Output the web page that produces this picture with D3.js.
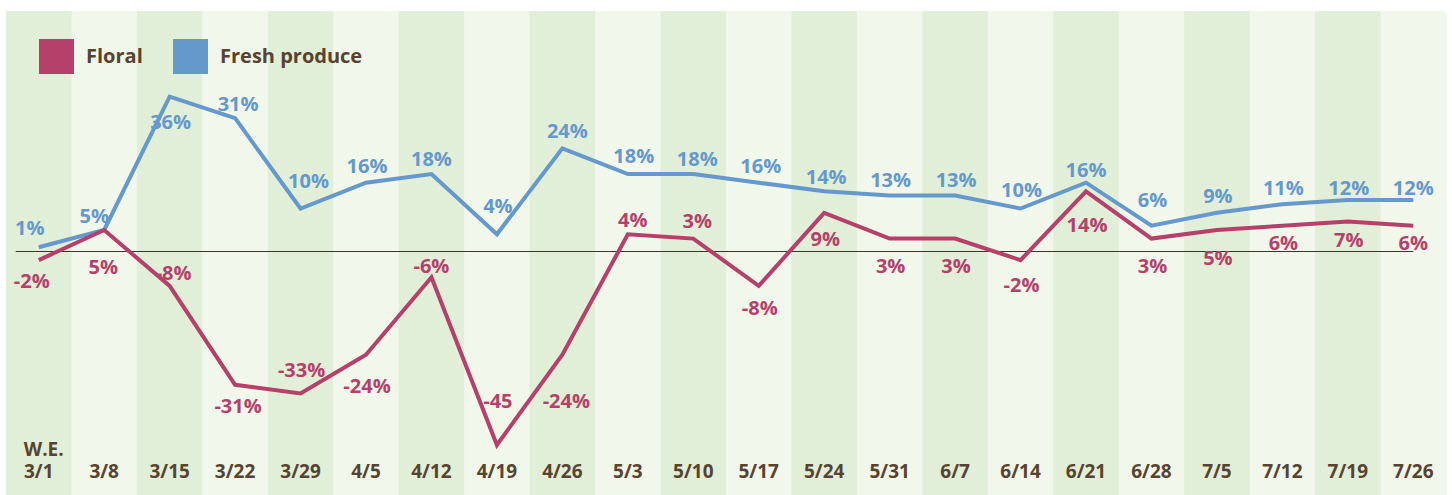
<!DOCTYPE html>
<html>
<head>
<meta charset="utf-8">
<script src="https://cdn.jsdelivr.net/npm/d3@7"></script>
<style>
  html, body { margin: 0; padding: 0; background: #fff; }
  svg text { font-family: "Open Sans", "Noto Sans", sans-serif; font-weight: 700; }
</style>
</head>
<body>
<div id="chart"></div>
<script>
const weeks = ["3/1", "3/8", "3/15", "3/22", "3/29", "4/5", "4/12", "4/19", "4/26", "5/3", "5/10",
  "5/17", "5/24", "5/31", "6/7", "6/14", "6/21", "6/28", "7/5", "7/12", "7/19", "7/26"]

const floral = [-2, 5, -8, -31, -33, -24, -6, -45, -24, 4, 3, -8, 9, 3, 3, -2, 14, 3, 5, 6, 7, 6]
const freshProduce = [1, 5, 36, 31, 10, 16, 18, 4, 24, 18, 18, 16, 14, 13, 13, 10, 16, 6, 9, 11, 12, 12]

const floralLabels = ["-2%", "5%", "-8%", "-31%", "-33%", "-24%", "-6%", "-45", "-24%", "4%", "3%",
  "-8%", "9%", "3%", "3%", "-2%", "14%", "3%", "5%", "6%", "7%", "6%"]
const produceLabels = freshProduce.map(v => v + "%")

const seriesNames = ["Floral", "Fresh produce"]
const axisPrefix = "W.E."

const w = 1452, h = 495
const colors = {floral: "#b5416b", produce: "#6598cb", text: "#57432f", dark: "#e1eed8", light: "#f1f7eb", zero: "#3f3428"}

// label nudges (px) relative to each point
const produceDy = [-12, -7, 32, -7, -21, -10, -8, -21, -10, -11, -8, -10, -7, -9, -9, -12, -6, -19, -10, -9, -5, -5]
const produceDx = [-9, -10, 1, 3, 8, 1, 0, 1, 5, 6, 4, 2, 2, 1, 1, 1, 0, 1, 1, 1, 1, 0]
const floralDy = [28, 44, -6, 28, -16, 38, -4, -37, 53, -7, -11, 29, 33, 34, 34, 32, 41, 34, 35, 24, 26, 24]
const floralDx = [-7, -1, 4, 3, 1, 1, 0, 1, 4, 5, 4, 1, 1, 1, 1, 1, 1, 1, 1, 1, 1, 0]

const svg = d3.select("#chart")
  .append("svg")
  .attr("width", w)
  .attr("height", h)

const x = d3.scaleBand()
  .domain(weeks)
  .range([6, 1446])

const y = d3.scaleLinear()
  .domain([-50, 50])
  .range([466.5, 36.5])

const cx = d => x(d) + x.bandwidth() / 2

// stripes
svg.append("g")
  .selectAll("rect")
  .data(weeks)
  .enter()
  .append("rect")
  .attr("x", d => x(d))
  .attr("y", 11)
  .attr("width", x.bandwidth() + 0.5)
  .attr("height", h - 11)
  .attr("fill", (d, i) => i % 2 === 0 ? colors.dark : colors.light)

// zero line
svg.append("line")
  .attr("x1", cx(weeks[0]) - 23)
  .attr("x2", cx(weeks[weeks.length - 1]))
  .attr("y1", y(0))
  .attr("y2", y(0))
  .attr("stroke", colors.zero)
  .attr("stroke-width", 1.2)

// week axis
const axis = svg.append("g")
  .attr("transform", "translate(0,478)")
  .call(d3.axisBottom(x).tickSize(0).tickPadding(0))
axis.select(".domain").remove()
axis.selectAll("text")
  .attr("y", 0)
  .attr("dy", 0)
  .attr("fill", colors.text)
  .style("font-size", "19px")

// first tick gets the "W.E." line above it
const first = axis.select(".tick text")
first.text(null)
first.append("tspan")
  .attr("x", 5)
  .attr("dy", -22)
  .text(axisPrefix)
first.append("tspan")
  .attr("x", 0)
  .attr("dy", 22)
  .text(weeks[0])

// value labels
function labels(values, texts, dx, dy, color) {
  svg.append("g")
    .selectAll("text")
    .data(values)
    .enter()
    .append("text")
    .attr("x", (d, i) => cx(weeks[i]) + dx[i])
    .attr("y", (d, i) => y(d) + dy[i])
    .attr("text-anchor", "middle")
    .attr("fill", color)
    .style("font-size", "20px")
    .text((d, i) => texts[i])
}
labels(freshProduce, produceLabels, produceDx, produceDy, colors.produce)
labels(floral, floralLabels, floralDx, floralDy, colors.floral)

// lines
const line = d3.line()
  .x((d, i) => cx(weeks[i]))
  .y(d => y(d))

svg.append("path")
  .datum(freshProduce)
  .attr("d", line)
  .attr("fill", "none")
  .attr("stroke", colors.produce)
  .attr("stroke-width", 4)

svg.append("path")
  .datum(floral)
  .attr("d", line)
  .attr("fill", "none")
  .attr("stroke", colors.floral)
  .attr("stroke-width", 4)

// legend
const legend = svg.append("g")
  .attr("transform", "translate(39,39)")
const legendX = [0, 134]
seriesNames.forEach(function(name, i) {
  legend.append("rect")
    .attr("x", legendX[i])
    .attr("width", 35)
    .attr("height", 35)
    .attr("fill", i === 0 ? colors.floral : colors.produce)
  legend.append("text")
    .attr("x", legendX[i] + 47)
    .attr("y", 24)
    .attr("fill", colors.text)
    .style("font-size", "20px")
    .text(name)
})
</script>
</body>
</html>
